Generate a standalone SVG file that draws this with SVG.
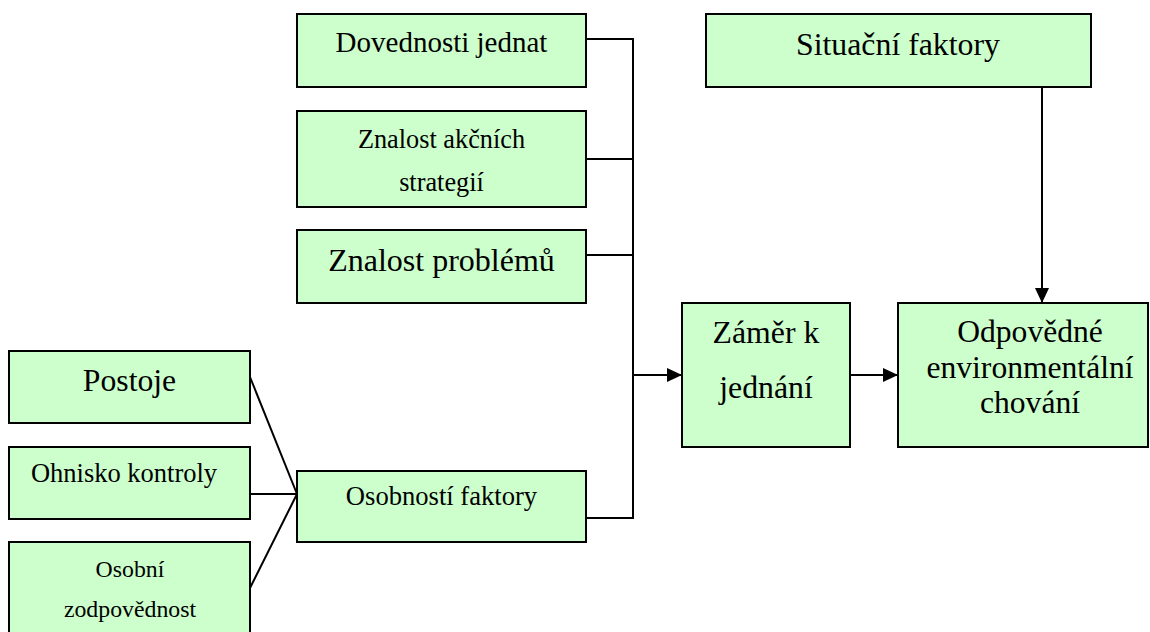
<svg xmlns="http://www.w3.org/2000/svg" width="1150" height="632" viewBox="0 0 1150 632">
  <style>
    .box { fill: #CCFFCC; stroke: #000; stroke-width: 2; }
    .lbl { font-family: "Liberation Serif", "Times New Roman", serif; fill: #000; text-anchor: middle; }
    .wire { fill: none; stroke: #000; stroke-width: 2; }
    .arrow { fill: none; stroke: #000; stroke-width: 2; marker-end: url(#head); }
  </style>
  <defs>
    <marker id="head" markerUnits="userSpaceOnUse" markerWidth="15" markerHeight="14" refX="15" refY="7" orient="auto">
      <path d="M0,0 L15,7 L0,14 z" fill="#000"/>
    </marker>
  </defs>

  <rect width="1150" height="632" fill="#fff"/>

  <!-- connectors -->
  <g id="connectors">
    <path class="wire" d="M586,39 H633 V518 H586"/>
    <path class="wire" d="M586,159 H633"/>
    <path class="wire" d="M586,255 H633"/>
    <path class="arrow" d="M633,375 H682"/>
    <path class="arrow" d="M850,375 H898"/>
    <path class="arrow" d="M1042,87 V303"/>
    <path class="wire" d="M250,377 L297,494"/>
    <path class="wire" d="M250,494 H297"/>
    <path class="wire" d="M250,588 L297,494"/>
  </g>

  <!-- nodes -->
  <g id="dovednosti">
    <rect class="box" x="297" y="14" width="289" height="73"/>
    <text class="lbl" x="441.5" y="52" font-size="29">Dovednosti jednat</text>
  </g>
  <g id="znalost-strategii">
    <rect class="box" x="297" y="111" width="289" height="96"/>
    <text class="lbl" x="441.5" y="148" font-size="26.3">Znalost akčních</text>
    <text class="lbl" x="441.5" y="191" font-size="26.3">strategií</text>
  </g>
  <g id="znalost-problemu">
    <rect class="box" x="297" y="230" width="289" height="73"/>
    <text class="lbl" x="441.5" y="271" font-size="32">Znalost problémů</text>
  </g>
  <g id="situacni">
    <rect class="box" x="706" y="14" width="385" height="73"/>
    <text class="lbl" x="898" y="55" font-size="31.8">Situační faktory</text>
  </g>
  <g id="zamer">
    <rect class="box" x="682" y="303" width="168" height="144"/>
    <text class="lbl" x="766" y="343" font-size="31.8">Záměr k</text>
    <text class="lbl" x="766" y="398" font-size="31.8">jednání</text>
  </g>
  <g id="chovani">
    <rect class="box" x="898" y="303" width="250" height="144"/>
    <text class="lbl" x="1030" y="342" font-size="31.6">Odpovědné</text>
    <text class="lbl" x="1030" y="378" font-size="31.6">environmentální</text>
    <text class="lbl" x="1030" y="413" font-size="31.6">chování</text>
  </g>
  <g id="postoje">
    <rect class="box" x="9" y="351" width="241" height="72"/>
    <text class="lbl" x="129.5" y="391" font-size="31.7">Postoje</text>
  </g>
  <g id="ohnisko">
    <rect class="box" x="9" y="447" width="241" height="72"/>
    <text class="lbl" x="124" y="482" font-size="26.5">Ohnisko kontroly</text>
  </g>
  <g id="osobni">
    <rect class="box" x="9" y="542" width="241" height="100"/>
    <text class="lbl" x="130" y="577" font-size="23.8">Osobní</text>
    <text class="lbl" x="130" y="617" font-size="23.8">zodpovědnost</text>
  </g>
  <g id="osobnostni">
    <rect class="box" x="297" y="471" width="289" height="71"/>
    <text class="lbl" x="441.5" y="505" font-size="26.6">Osobností faktory</text>
  </g>
</svg>
